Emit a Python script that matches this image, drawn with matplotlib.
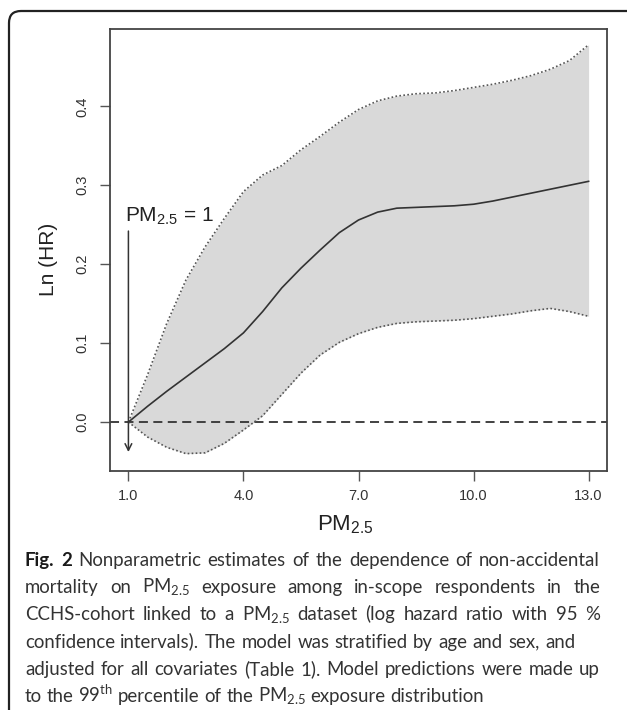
import matplotlib
matplotlib.use("Agg")
import matplotlib.pyplot as plt
from matplotlib.patches import FancyBboxPatch
from matplotlib.transforms import IdentityTransform

# PM2.5 exposure grid and the curves
pm25 = [1.0, 1.5, 2.0, 2.5, 3.0, 3.5, 4.0, 4.5, 5.0, 5.5, 6.0, 6.5, 7.0,
        7.5, 8.0, 8.5, 9.0, 9.5, 10.0, 10.5, 11.0, 11.5, 12.0, 12.5, 13.0]
ln_hr = [0.000, 0.020, 0.039, 0.057, 0.075, 0.093, 0.113, 0.140, 0.170,
         0.195, 0.218, 0.240, 0.256, 0.266, 0.271, 0.272, 0.273, 0.274,
         0.276, 0.280, 0.285, 0.290, 0.295, 0.300, 0.305]
upper = [0.000, 0.060, 0.125, 0.180, 0.222, 0.258, 0.292, 0.313, 0.325,
         0.345, 0.362, 0.380, 0.396, 0.407, 0.413, 0.416, 0.417, 0.420,
         0.424, 0.428, 0.433, 0.439, 0.447, 0.458, 0.478]
lower = [0.000, -0.019, -0.032, -0.040, -0.039, -0.027, -0.010, 0.008,
         0.035, 0.062, 0.085, 0.101, 0.112, 0.120, 0.125, 0.127, 0.128,
         0.129, 0.131, 0.134, 0.137, 0.141, 0.144, 0.140, 0.134]

x_ticks = [1, 4, 7, 10, 13]
x_labels = ["1.0", "4.0", "7.0", "10.0", "13.0"]
y_ticks = [0.0, 0.1, 0.2, 0.3, 0.4]
y_labels = ["0.0", "0.1", "0.2", "0.3", "0.4"]

ref_x = 1.0
arrow_top = 0.242
arrow_tip = -0.038

caption = [
    "Fig. 2 Nonparametric estimates of the dependence of non-accidental",
    r"mortality on PM$_{\mathregular{2.5}}$ exposure among in-scope respondents in the",
    r"CCHS-cohort linked to a PM$_{\mathregular{2.5}}$ dataset (log hazard ratio with 95 %",
    "confidence intervals). The model was stratified by age and sex, and",
    "adjusted for all covariates (Table 1). Model predictions were made up",
    r"to the 99$^{\mathregular{th}}$ percentile of the PM$_{\mathregular{2.5}}$ exposure distribution",
]

W, H = 627, 710
AX_FONT = "Liberation Sans"
CAP_FONT = "Lato"

fig = plt.figure(figsize=(W / 100, H / 100), dpi=100)
fig.patch.set_facecolor("white")

# rounded frame of the figure panel (runs off the right/bottom edges)
frame = FancyBboxPatch((0.09, -1.0), 10.0, 7.99,
                       boxstyle="round,pad=0,rounding_size=0.12",
                       transform=fig.dpi_scale_trans, fill=False,
                       ec="#222222", lw=1.6, clip_on=False)
fig.add_artist(frame)

ax = fig.add_axes([110 / W, 1 - 471 / H, 497 / W, 442 / H])
ax.fill_between(pm25, lower, upper, color="#d9d9d9", lw=0, zorder=1)
ax.plot(pm25, upper, color="#555555", lw=1.2, ls=(0, (1, 1.4)), zorder=3)
ax.plot(pm25, lower, color="#555555", lw=1.2, ls=(0, (1, 1.4)), zorder=3)
ax.plot(pm25, ln_hr, color="#333333", lw=1.2, zorder=4)
ax.axhline(0, color="#333333", lw=1.3, ls=(0, (5, 3)), zorder=2)

ax.annotate("", xy=(ref_x, arrow_tip), xytext=(ref_x, arrow_top),
            arrowprops=dict(arrowstyle="->", color="#333333", lw=1.1,
                            shrinkA=0, shrinkB=0, mutation_scale=12),
            zorder=5)
ax.text(0.92, 0.254, r"PM$_{\mathregular{2.5}}$ = 1", family=AX_FONT,
        fontsize=15, color="#222222", va="baseline", ha="left")

ax.set_xlim(0.52, 13.48)
ax.set_ylim(-0.062, 0.498)
ax.set_xticks(x_ticks)
ax.set_xticklabels(x_labels, family=AX_FONT, fontsize=10.5, color="#333333")
ax.set_yticks(y_ticks)
ax.set_yticklabels(y_labels, family=AX_FONT, fontsize=10.5, color="#333333",
                   rotation=90, va="center")
ax.tick_params(axis="x", length=7, width=1, color="#555555", pad=6)
ax.tick_params(axis="y", length=7, width=1, color="#555555", pad=8)
for sp in ax.spines.values():
    sp.set_color("#444444")
    sp.set_linewidth(1.3)

fig.text(345 / W, 1 - 525 / H, r"PM$_{\mathregular{2.5}}$", family=AX_FONT,
         fontsize=16, color="#222222", ha="center", va="center")
fig.text(49 / W, 1 - 259 / H, "Ln (HR)", family=AX_FONT, fontsize=15,
         color="#222222", ha="center", va="center", rotation=90)

# caption, justified word by word
renderer = fig.canvas.get_renderer()
px = IdentityTransform()


def word_width(s, size, weight="normal"):
    t = fig.text(0, 0, s, family=CAP_FONT, fontsize=size, fontweight=weight,
                 transform=px)
    w = t.get_window_extent(renderer).width
    t.remove()
    return w


def line_words(i, line):
    words = line.split(" ")
    weights = ["normal"] * len(words)
    if i == 0:
        weights[0] = weights[1] = "bold"
    return words, weights


# size the caption font so the last (unjustified) line has its natural width
probe = 10.0
last_w, last_wt = line_words(5, caption[5])
sp_probe = word_width("a a", probe) - word_width("aa", probe)
nat = sum(word_width(w, probe, wt) for w, wt in zip(last_w, last_wt))
nat += (len(last_w) - 1) * sp_probe
cap_size = probe * 462 / nat

x0 = 25
targets = [600, 600, 600, 575, 600, None]
space = word_width("a a", cap_size) - word_width("aa", cap_size)
for i, line in enumerate(caption):
    words, weights = line_words(i, line)
    widths = [word_width(w, cap_size, wt) for w, wt in zip(words, weights)]
    if targets[i] is None:
        gap = space
    else:
        gap = (targets[i] - x0 - sum(widths)) / (len(words) - 1)
    y = H - (566 + 27.2 * i)
    x = x0
    for w, wt, wd in zip(words, weights, widths):
        fig.text(x, y, w, family=CAP_FONT, fontsize=cap_size, fontweight=wt,
                 color="#1a1a1a" if wt == "bold" else "#333333",
                 va="baseline", ha="left", transform=px)
        x += wd + gap

fig.savefig("out.png", dpi=100)
